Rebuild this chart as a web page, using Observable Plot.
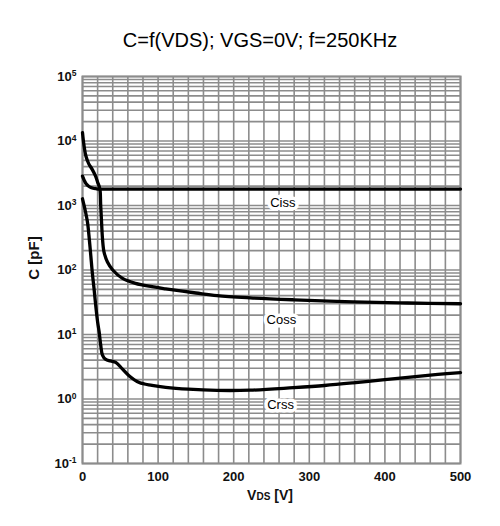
<!DOCTYPE html>
<html>
<head>
<meta charset="utf-8">
<script src="https://cdn.jsdelivr.net/npm/d3@7"></script>
<script src="https://cdn.jsdelivr.net/npm/@observablehq/plot@0.6"></script>
<style>
  html, body { margin: 0; padding: 0; background: #fff; }
  body { width: 500px; height: 526px; overflow: hidden; font-family: "Liberation Sans", Arial, sans-serif; }
  #title { height: 30px; padding-top: 30px; padding-left: 20px; line-height: 20px; font-size: 20px; text-align: center; color: #000; box-sizing: content-box; }
</style>
</head>
<body>
<div id="title">C=f(VDS); VGS=0V; f=250KHz</div>
<div id="chart"></div>
<script>
// ---- data ----
const vCiss = [0, 2, 4.5, 7, 10, 14, 18, 22, 30, 100, 200, 300, 400, 500];
const cCiss = [2850, 2500, 2200, 2050, 1930, 1850, 1820, 1800, 1800, 1800, 1800, 1800, 1800, 1800];

const vCoss = [0, 2, 4.4, 8, 13, 17, 20, 23, 24, 25, 26.5, 28.5, 33, 40, 53, 70, 92, 110, 150, 178, 222, 280, 358, 430, 500];
const cCoss = [13500, 8500, 5900, 4500, 3600, 2900, 2300, 1800, 1050, 620, 300, 190, 133, 100, 74, 62, 55, 51, 44, 40, 37, 34.5, 32, 30.8, 30];

const vCrss = [0, 3, 6.6, 9, 11, 13, 15.3, 17.5, 20, 22, 24, 26.4, 30.7, 37, 44, 53, 61.5, 75, 92, 110, 140, 178, 222, 279, 320, 358, 400, 437, 470, 500];
const cCrss = [1270, 900, 550, 300, 166, 90, 51, 28, 15.6, 11, 7, 4.8, 4.1, 3.9, 3.7, 2.9, 2.3, 1.8, 1.63, 1.52, 1.42, 1.36, 1.37, 1.5, 1.62, 1.78, 2.0, 2.2, 2.4, 2.57];

const seriesNames = ["Ciss", "Coss", "Crss"];
const labelV = [265, 263, 262];
const labelC = [1100, 17, 0.81];

const xTicks = [0, 100, 200, 300, 400, 500];
const yExponents = [-1, 0, 1, 2, 3, 4, 5];

// ---- build tables ----
const rows = [];
[[vCiss, cCiss, "Ciss"], [vCoss, cCoss, "Coss"], [vCrss, cCrss, "Crss"]].forEach(([vs, cs, name]) => {
  vs.forEach((v, i) => rows.push({ v, c: cs[i], name }));
});
const labels = seriesNames.map((name, i) => ({ name, v: labelV[i], c: labelC[i] }));
const yTicks = yExponents.map(e => Math.pow(10, e));

const xGrid = d3.range(0, 501, 20);
const yGrid = [];
for (let e = -1; e < 5; e++) for (let m = 1; m < 10; m++) yGrid.push(m * Math.pow(10, e));
yGrid.push(1e5);

const gridColor = "#8c8c8c";
const font = "'Liberation Sans', Arial, sans-serif";

const chart = Plot.plot({
  width: 500,
  height: 466,
  marginLeft: 82,
  marginRight: 40,
  marginTop: 16,
  marginBottom: 63,
  style: { fontFamily: font, background: "#fff", color: "#000" },
  x: { domain: [0, 500], label: null },
  y: { type: "log", domain: [0.1, 1e5], label: null },
  marks: [
    Plot.ruleX(xGrid, { x: d => d, stroke: gridColor, strokeWidth: 1.6 }),
    Plot.ruleY(yGrid, { y: d => d, stroke: gridColor, strokeWidth: 1.6 }),
    Plot.frame({ stroke: gridColor, strokeWidth: 2 }),
    Plot.line(rows, { x: "v", y: "c", z: "name", stroke: "#000", strokeWidth: 3.3, curve: "catmull-rom", strokeLinejoin: "round" }),
    Plot.text(labels, { x: "v", y: "c", text: "name", fill: "#000", stroke: "#fff", strokeWidth: 7, strokeLinejoin: "round", fontSize: 13, fontFamily: font }),
    Plot.axisX(xTicks, { tickSize: 0, tickPadding: 8, fontSize: 13, fontWeight: "bold", fill: "#111" }),
    Plot.axisY(yTicks, { tickSize: 0, tickPadding: 6, fontSize: 13, fontWeight: "bold", fill: "#111", tickFormat: d => "10|" + Math.round(Math.log10(d)) })
  ]
});

document.getElementById("chart").appendChild(chart);

// superscript exponents on y tick labels
d3.select(chart).selectAll("text").each(function () {
  const t = this.textContent;
  if (/^10\|-?\d+$/.test(t)) {
    const exp = t.split("|")[1];
    const sel = d3.select(this);
    sel.text(null);
    sel.append("tspan").text("10");
    sel.append("tspan").attr("dy", "-0.55em").attr("font-size", "8.5px").text(exp);
  }
});

const svg = d3.select(chart);
// x axis label with small "DS"
const xl = svg.append("text")
  .attr("x", 270).attr("y", 440)
  .attr("text-anchor", "middle")
  .attr("font-family", font)
  .attr("font-weight", "bold")
  .attr("font-size", 14)
  .attr("fill", "#111");
xl.append("tspan").text("V");
xl.append("tspan").attr("font-size", 10).text("DS");
xl.append("tspan").text(" [V]");

// y axis label
svg.append("text")
  .attr("transform", "translate(39,198) rotate(-90)")
  .attr("text-anchor", "middle")
  .attr("font-family", font)
  .attr("font-weight", "bold")
  .attr("font-size", 15)
  .attr("fill", "#111")
  .text("C [pF]");
</script>
</body>
</html>
